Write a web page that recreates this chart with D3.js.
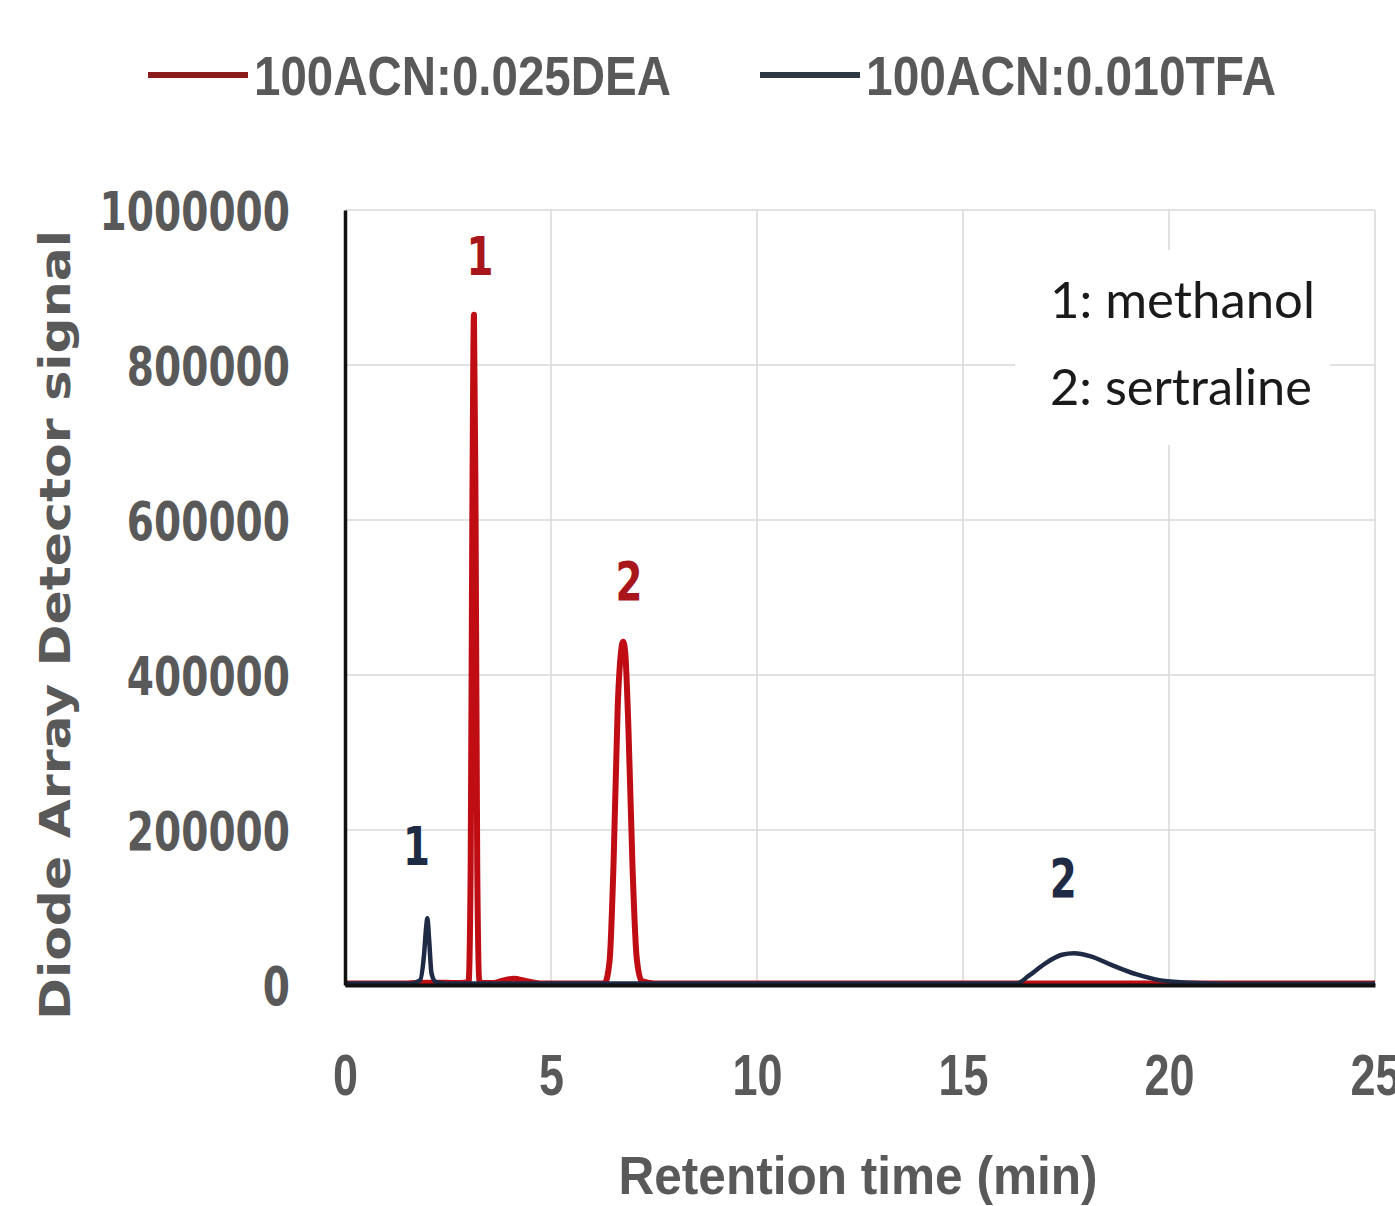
<!DOCTYPE html>
<html>
<head>
<meta charset="utf-8">
<title>Chromatogram</title>
<script src="https://cdn.jsdelivr.net/npm/d3@7"></script>
<style>
  body { margin: 0; background: #fff; }
  svg { display: block; }
</style>
</head>
<body>
<script>
// retention time (min) / signal pairs
var deaTime = [0, 1.5, 2.0, 2.8, 3.0, 3.05, 3.09, 3.13, 3.17, 3.21, 3.26, 3.32, 3.6, 3.85, 4.1, 4.4, 4.8, 6.3, 6.42, 6.52, 6.62, 6.7, 6.75, 6.8, 6.88, 6.98, 7.08, 7.2, 7.5, 25];
var deaSignal = [2000, 2000, 3000, 2500, 4000, 150000, 600000, 865000, 600000, 150000, 6000, 2500, 2500, 6000, 8000, 5000, 2000, 2000, 30000, 160000, 360000, 430000, 443000, 430000, 330000, 150000, 35000, 5000, 2000, 2000];

var tfaTime = [0, 1.6, 1.82, 1.92, 1.97, 2.0, 2.04, 2.1, 2.2, 2.45, 16.3, 16.6, 17.0, 17.4, 17.7, 18.1, 18.6, 19.2, 19.8, 20.5, 21.5, 25];
var tfaSignal = [2000, 2000, 6000, 40000, 75000, 86000, 60000, 15000, 4000, 2000, 2000, 12000, 28000, 39000, 41000, 37000, 26000, 14000, 6000, 3000, 1500, 1500];

var xTicks = [0, 5, 10, 15, 20, 25];
var yTicks = [0, 200000, 400000, 600000, 800000, 1000000];

var seriesNames = ["100ACN:0.025DEA", "100ACN:0.010TFA"];
var peakLabels = [
  { series: 0, t: 3.13, v: 865000, text: "1" },
  { series: 0, t: 6.75, v: 443000, text: "2" },
  { series: 1, t: 2.0, v: 86000, text: "1" },
  { series: 1, t: 17.7, v: 41000, text: "2" }
];
var compounds = ["1: methanol", "2: sertraline"];

var w = 1395, h = 1206;
var lineColors = ["#c00d14", "#1f2b45"];
var legendColors = ["#8a1c1c", "#2e3744"];
var labelColors = ["#a8151a", "#1f2b45"];

var svg = d3.select("body").append("svg")
  .attr("width", w)
  .attr("height", h);

var x = d3.scaleLinear().domain([0, 25]).range([345, 1375]);
var y = d3.scaleLinear().domain([0, 1000000]).range([985, 210]);

// gridlines
svg.append("g")
  .selectAll("line.hgrid")
  .data(yTicks.slice(1))
  .enter().append("line")
    .attr("x1", x(0)).attr("x2", x(25))
    .attr("y1", function(d) { return y(d); })
    .attr("y2", function(d) { return y(d); })
    .attr("stroke", "#d9d9d9").attr("stroke-width", 1.5);

svg.append("g")
  .selectAll("line.vgrid")
  .data(xTicks.slice(1))
  .enter().append("line")
    .attr("x1", function(d) { return x(d); })
    .attr("x2", function(d) { return x(d); })
    .attr("y1", y(1000000)).attr("y2", y(0))
    .attr("stroke", "#d9d9d9").attr("stroke-width", 1.5);

// compound key box (covers gridlines)
var key = svg.append("g");
key.append("rect")
  .attr("x", 1015).attr("y", 250).attr("width", 315).attr("height", 195)
  .attr("fill", "#fff");
key.selectAll("text")
  .data(compounds)
  .enter().append("text")
    .attr("x", 1050)
    .attr("y", function(d, i) { return 318 + i * 87; })
    .attr("font-family", "Lato, 'Open Sans', sans-serif")
    .attr("font-size", 50)
    .attr("fill", "#1a1a1a")
    .attr("textLength", function(d, i) { return i ? 262 : 265; })
    .attr("lengthAdjust", "spacingAndGlyphs")
    .text(function(d) { return d; });

// traces
var line = d3.line()
  .x(function(d) { return x(d[0]); })
  .y(function(d) { return y(d[1]); })
  .curve(d3.curveMonotoneX);

var dea = d3.zip(deaTime, deaSignal);
var tfa = d3.zip(tfaTime, tfaSignal);

svg.append("path")
  .datum(dea)
  .attr("d", line)
  .attr("fill", "none")
  .attr("stroke", lineColors[0])
  .attr("stroke-width", 6)
  .attr("stroke-linejoin", "round");

svg.append("path")
  .datum(tfa)
  .attr("d", line)
  .attr("fill", "none")
  .attr("stroke", lineColors[1])
  .attr("stroke-width", 4.5)
  .attr("stroke-linejoin", "round");

// axes
var xAxis = svg.append("g")
  .attr("transform", "translate(0," + y(0) + ")")
  .call(d3.axisBottom(x).tickValues(xTicks).tickSize(0).tickPadding(0));
xAxis.select(".domain").attr("stroke", "#111").attr("stroke-width", 4);
xAxis.selectAll("text")
  .attr("y", 110)
  .attr("dy", 0)
  .attr("font-family", "'Liberation Sans Narrow', 'Liberation Sans', sans-serif")
  .attr("font-weight", "bold")
  .attr("font-size", 58)
  .attr("fill", "#595959")
  .attr("textLength", function(d) { return String(d).length * 25; })
  .attr("lengthAdjust", "spacingAndGlyphs");

var yAxis = svg.append("g")
  .attr("transform", "translate(" + x(0) + ",0)")
  .call(d3.axisLeft(y).tickValues(yTicks).tickSize(0).tickPadding(55).tickFormat(d3.format("d")));
yAxis.select(".domain").attr("stroke", "#111").attr("stroke-width", 3.5);
yAxis.selectAll("text")
  .attr("dy", "0.36em")
  .attr("font-family", "'DejaVu Sans', sans-serif")
  .attr("font-weight", "bold")
  .attr("font-size", 53)
  .attr("fill", "#595959")
  .attr("textLength", function(d) { return String(d).length * 27.2; })
  .attr("lengthAdjust", "spacingAndGlyphs");

// peak numbers
var peakOffset = [[40, 42], [53, 56]];
svg.append("g")
  .selectAll("text")
  .data(peakLabels)
  .enter().append("text")
    .attr("x", function(d) { return x(d.t) + (d.series ? -11 : 6); })
    .attr("y", function(d, i) { return y(d.v) - peakOffset[d.series][i % 2]; })
    .attr("text-anchor", "middle")
    .attr("font-family", "'DejaVu Sans', sans-serif")
    .attr("font-weight", "bold")
    .attr("font-size", 54)
    .attr("fill", function(d) { return labelColors[d.series]; })
    .attr("textLength", 27)
    .attr("lengthAdjust", "spacingAndGlyphs")
    .text(function(d) { return d.text; });

// axis titles
svg.append("text")
  .attr("x", 858).attr("y", 1194)
  .attr("text-anchor", "middle")
  .attr("font-family", "'Liberation Sans Narrow', 'Liberation Sans', sans-serif")
  .attr("font-weight", "bold")
  .attr("font-size", 54)
  .attr("fill", "#595959")
  .attr("textLength", 479)
  .attr("lengthAdjust", "spacingAndGlyphs")
  .text("Retention time (min)");

svg.append("text")
  .attr("transform", "translate(70,625) rotate(-90)")
  .attr("text-anchor", "middle")
  .attr("font-family", "'DejaVu Sans', sans-serif")
  .attr("font-weight", "bold")
  .attr("font-size", 42)
  .attr("fill", "#595959")
  .attr("textLength", 790)
  .attr("lengthAdjust", "spacingAndGlyphs")
  .text("Diode Array Detector signal");

// legend
var legendX = [148, 760];
var legend = svg.append("g")
  .selectAll("g")
  .data(seriesNames)
  .enter().append("g")
    .attr("transform", function(d, i) { return "translate(" + legendX[i] + ",75)"; });
legend.append("line")
  .attr("x1", 0).attr("x2", 100)
  .attr("y1", 0).attr("y2", 0)
  .attr("stroke", function(d, i) { return legendColors[i]; })
  .attr("stroke-width", 6);
legend.append("text")
  .attr("x", 106).attr("y", 20)
  .attr("font-family", "'Liberation Sans Narrow', 'Liberation Sans', sans-serif")
  .attr("font-weight", "bold")
  .attr("font-size", 56)
  .attr("fill", "#595959")
  .attr("textLength", function(d, i) { return i ? 410 : 417; })
  .attr("lengthAdjust", "spacingAndGlyphs")
  .text(function(d) { return d; });
</script>
</body>
</html>
